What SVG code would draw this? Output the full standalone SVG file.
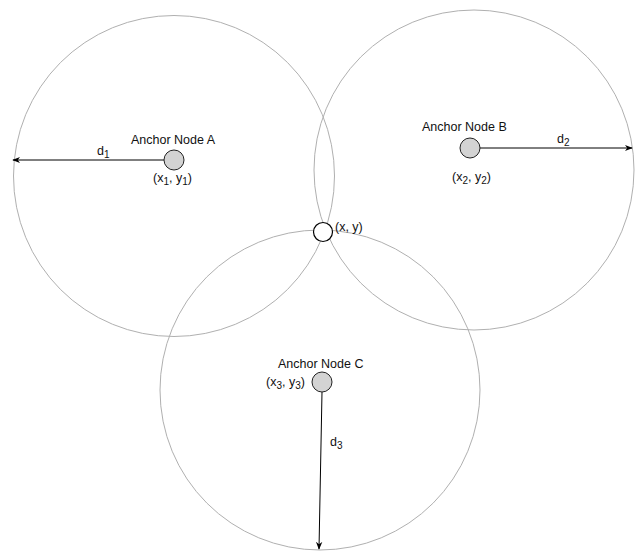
<svg xmlns="http://www.w3.org/2000/svg" width="635" height="551" viewBox="0 0 635 551">
<style>
.range{fill:none;stroke:#b0b0b0;stroke-width:1}
.anchor{fill:#d3d3d3;stroke:#222;stroke-width:1}
.target{fill:#fff;stroke:#000;stroke-width:1.2}
.conn{stroke:#000;stroke-width:1;fill:none}
text{font-family:"Liberation Sans",Arial,Helvetica,sans-serif;font-size:12.5px;fill:#111}
.sub{font-size:10px}
</style>
<defs>
<marker id="arr" viewBox="0 0 10 10" refX="9" refY="5" markerWidth="8" markerHeight="8" markerUnits="userSpaceOnUse" orient="auto">
<path d="M0,1 L10,5 L0,9 L3,5 Z" fill="#000"/>
</marker>
</defs>
<rect width="635" height="551" fill="#fff"/>
<g id="ranges">
<circle class="range" cx="174" cy="176" r="160.5"/>
<circle class="range" cx="474" cy="170" r="160"/>
<circle class="range" cx="320" cy="390" r="160"/>
</g>
<g id="connectors">
<line class="conn" x1="164" y1="160" x2="13" y2="160" marker-end="url(#arr)"/>
<line class="conn" x1="480" y1="148" x2="632" y2="148" marker-end="url(#arr)"/>
<line class="conn" x1="322" y1="392" x2="319" y2="549" marker-end="url(#arr)"/>
<text x="97" y="155">d<tspan class="sub" dy="3">1</tspan></text>
<text x="557" y="143">d<tspan class="sub" dy="3">2</tspan></text>
<text x="330" y="446">d<tspan class="sub" dy="3">3</tspan></text>
</g>
<g id="nodeA">
<circle class="anchor" cx="174" cy="160" r="10"/>
<text x="131" y="144">Anchor Node A</text>
<text x="153" y="182">(x<tspan class="sub" dy="3">1</tspan><tspan dy="-3">, y</tspan><tspan class="sub" dy="3">1</tspan><tspan dy="-3">)</tspan></text>
</g>
<g id="nodeB">
<circle class="anchor" cx="470" cy="148" r="10"/>
<text x="422" y="131">Anchor Node B</text>
<text x="452" y="181">(x<tspan class="sub" dy="3">2</tspan><tspan dy="-3">, y</tspan><tspan class="sub" dy="3">2</tspan><tspan dy="-3">)</tspan></text>
</g>
<g id="nodeC">
<circle class="anchor" cx="322" cy="382" r="10"/>
<text x="278" y="368">Anchor Node C</text>
<text x="266" y="386">(x<tspan class="sub" dy="3">3</tspan><tspan dy="-3">, y</tspan><tspan class="sub" dy="3">3</tspan><tspan dy="-3">)</tspan></text>
</g>
<g id="target">
<circle class="target" cx="323" cy="232" r="9.5"/>
<text x="335" y="231">(x, y)</text>
</g>
</svg>
